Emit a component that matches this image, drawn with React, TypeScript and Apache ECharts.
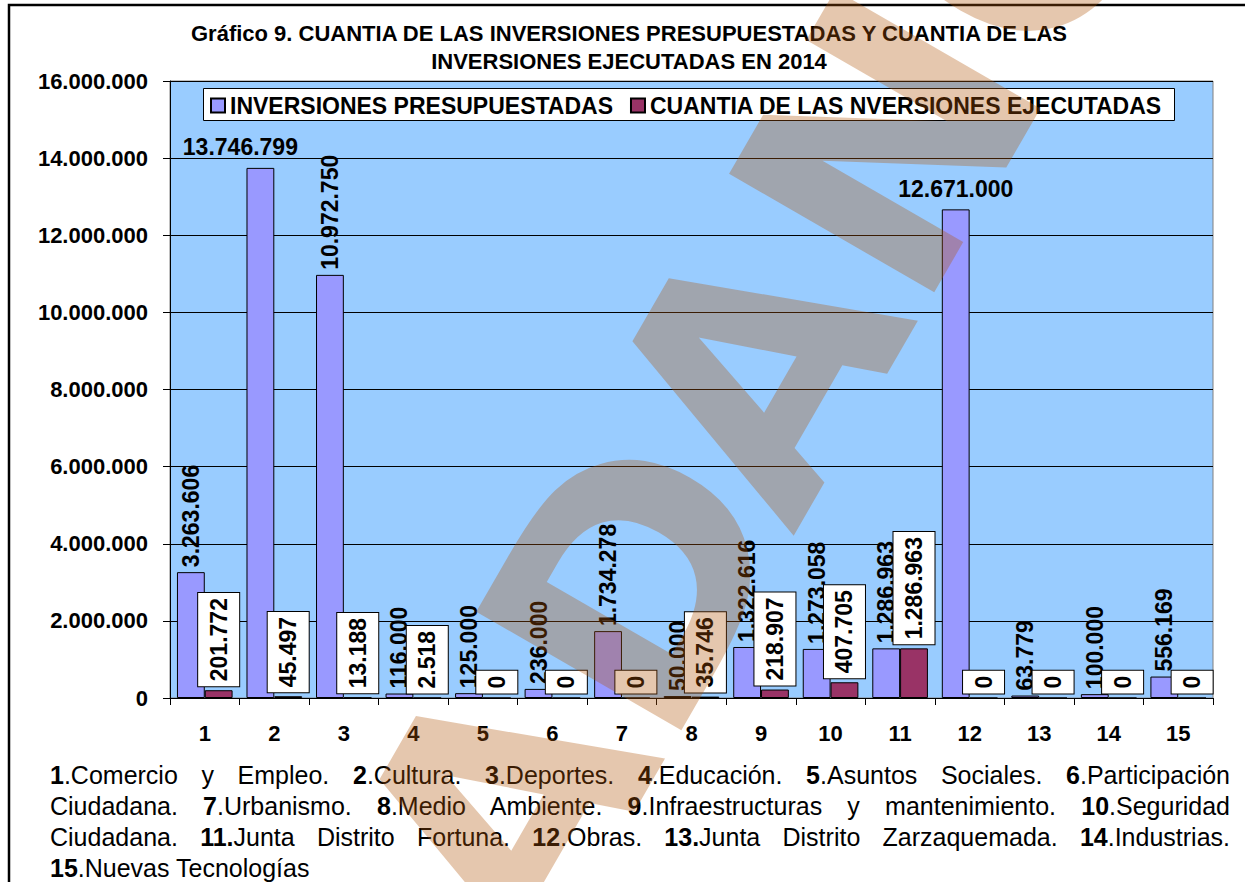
import React, { useEffect, useRef } from 'react';
import * as echarts from 'echarts';

// ---------- data ----------
const categories = ['1', '2', '3', '4', '5', '6', '7', '8', '9', '10', '11', '12', '13', '14', '15'];
const presupuestadas = [3263606, 13746799, 10972750, 116000, 125000, 236000, 1734278, 50000, 1322616, 1273058, 1286963, 12671000, 63779, 100000, 556169];
const ejecutadas = [201772, 45497, 13188, 2518, 0, 0, 0, 35746, 218907, 407705, 1286963, 0, 0, 0, 0];
const seriesNames = ['INVERSIONES PRESUPUESTADAS', 'CUANTIA DE LAS NVERSIONES EJECUTADAS'];
const yMin = 0;
const yMax = 16000000;
const yStep = 2000000;
const titleLines = [
  'Gráfico 9. CUANTIA DE LAS INVERSIONES PRESUPUESTADAS Y CUANTIA DE LAS',
  'INVERSIONES EJECUTADAS EN 2014',
];
// bars whose budget label is written horizontally, with its horizontal nudge
const horizontalLabels: Record<number, number> = { 1: -20, 11: 0 };

type Seg = { b?: boolean; t: string };
const footLines: Seg[][] = [
  [{ b: true, t: '1' }, { t: '.Comercio y Empleo. ' }, { b: true, t: '2' }, { t: '.Cultura. ' }, { b: true, t: '3' }, { t: '.Deportes. ' }, { b: true, t: '4' }, { t: '.Educación. ' }, { b: true, t: '5' }, { t: '.Asuntos Sociales. ' }, { b: true, t: '6' }, { t: '.Participación' }],
  [{ t: 'Ciudadana. ' }, { b: true, t: '7' }, { t: '.Urbanismo. ' }, { b: true, t: '8' }, { t: '.Medio Ambiente. ' }, { b: true, t: '9' }, { t: '.Infraestructuras y mantenimiento. ' }, { b: true, t: '10' }, { t: '.Seguridad' }],
  [{ t: 'Ciudadana. ' }, { b: true, t: '11.' }, { t: 'Junta Distrito Fortuna. ' }, { b: true, t: '12' }, { t: '.Obras. ' }, { b: true, t: '13.' }, { t: 'Junta Distrito Zarzaquemada. ' }, { b: true, t: '14' }, { t: '.Industrias.' }],
  [{ b: true, t: '15' }, { t: '.Nuevas Tecnologías' }],
];

// watermark letters (visible part) and their advance widths in em
const wmLetters = ['A', 'D', 'A', 'N', 'O'];
const wmAdvance = [0.778, 0.778, 0.778, 0.833, 0.833];

// ---------- helpers ----------
const FONT = '"Liberation Sans", Arial, Helvetica, sans-serif';
const fmt = (v: number) => String(Math.round(v)).replace(/\B(?=(\d{3})+(?!\d))/g, '.');

function buildWatermark() {
  const fs = 325;
  const a = Math.PI / 3;
  const ux = Math.cos(a), uy = -Math.sin(a);
  const vx = -Math.sin(a), vy = -Math.cos(a);
  let ox = 540, oy = 975;
  const els: any[] = [];
  wmLetters.forEach((ch, i) => {
    const ax = ox + 0.346 * fs * vx;
    const ay = oy + 0.346 * fs * vy;
    els.push({
      type: 'text',
      x: ax,
      y: ay,
      rotation: a,
      z: 100,
      silent: true,
      style: {
        text: ch,
        fontSize: fs,
        fontWeight: 'bold',
        fontFamily: '"DejaVu Sans", sans-serif',
        fill: 'rgba(176,86,10,0.33)',
        align: 'left',
        verticalAlign: 'middle',
      },
    });
    ox += wmAdvance[i] * fs * ux;
    oy += wmAdvance[i] * fs * uy;
  });
  return els;
}

const rotatedLabel = {
  show: true,
  position: 'top',
  rotate: 90,
  align: 'left',
  verticalAlign: 'middle',
  distance: 5,
  fontSize: 23,
  fontWeight: 'bold',
  fontFamily: FONT,
  color: '#000',
  formatter: (p: any) => fmt(p.value),
};

export default function App() {
  const ref = useRef<HTMLDivElement>(null);

  useEffect(() => {
    if (!ref.current) return;
    const chart = echarts.init(ref.current, null, { renderer: 'svg' });

    const s1Data = presupuestadas.map((v, i) =>
      i in horizontalLabels
        ? {
            value: v,
            label: {
              rotate: 0,
              align: 'center',
              verticalAlign: 'bottom',
              distance: 9,
              offset: [horizontalLabels[i], 0],
            },
          }
        : v
    );

    const option: any = {
      animation: false,
      backgroundColor: 'transparent',
      textStyle: { fontFamily: FONT },
      grid: {
        left: 170,
        top: 81,
        width: 1043,
        height: 617,
        show: true,
        backgroundColor: '#99CCFF',
        borderColor: '#808080',
        borderWidth: 1,
      },
      legend: {
        left: 210,
        top: 94,
        padding: 0,
        itemWidth: 14,
        itemHeight: 14,
        itemGap: 17,
        icon: 'rect',
        data: seriesNames,
        textStyle: { fontSize: 23, fontWeight: 'bold', color: '#000', fontFamily: FONT },
      },
      xAxis: {
        type: 'category',
        data: categories,
        axisLine: { lineStyle: { color: '#000', width: 1 } },
        axisTick: { show: true, length: 7, lineStyle: { color: '#000' } },
        axisLabel: { fontSize: 22, fontWeight: 'bold', color: '#000', margin: 24, fontFamily: FONT },
      },
      yAxis: {
        type: 'value',
        min: yMin,
        max: yMax,
        interval: yStep,
        axisLine: { show: true, lineStyle: { color: '#000', width: 1 } },
        axisTick: { show: true, length: 7, lineStyle: { color: '#000' } },
        axisLabel: {
          fontSize: 22,
          fontWeight: 'bold',
          color: '#000',
          margin: 22,
          fontFamily: FONT,
          formatter: (v: number) => fmt(v),
        },
        splitLine: { show: true, lineStyle: { color: '#000', width: 1 } },
      },
      series: [
        {
          name: seriesNames[0],
          type: 'bar',
          data: s1Data,
          barGap: '0%',
          barCategoryGap: '20%',
          itemStyle: { color: '#9999FF', borderColor: '#000', borderWidth: 1 },
          label: rotatedLabel,
        },
        {
          name: seriesNames[1],
          type: 'bar',
          data: ejecutadas,
          barGap: '0%',
          barCategoryGap: '20%',
          itemStyle: { color: '#993366', borderColor: '#000', borderWidth: 1 },
          label: {
            ...rotatedLabel,
            distance: 4,
            backgroundColor: '#fff',
            borderColor: '#000',
            borderWidth: 1,
            padding: [9, 5],
          },
        },
      ],
      graphic: [
        {
          type: 'rect',
          z: 50,
          silent: true,
          shape: { x: 9, y: 5, width: 1400, height: 1000 },
          style: { fill: 'none', stroke: '#000', lineWidth: 2.5 },
        },
        {
          type: 'rect',
          z: 3,
          silent: true,
          shape: { x: 203.5, y: 88.5, width: 971, height: 32 },
          style: { fill: '#fff', stroke: '#000', lineWidth: 1 },
        },
        {
          type: 'text',
          x: 629,
          y: 19,
          z: 10,
          silent: true,
          style: {
            text: titleLines.join('\n'),
            fontSize: 22,
            fontWeight: 'bold',
            fontFamily: FONT,
            fill: '#000',
            align: 'center',
            verticalAlign: 'top',
            lineHeight: 28,
          },
        },
        ...buildWatermark(),
      ],
    };

    chart.setOption(option);
    return () => chart.dispose();
  }, []);

  return (
    <div
      style={{
        position: 'fixed',
        left: 0,
        top: 0,
        width: 1245,
        height: 882,
        background: '#fff',
        overflow: 'hidden',
      }}
    >
      <div
        style={{
          position: 'absolute',
          left: 50,
          top: 760,
          width: 1180,
          fontFamily: FONT,
          fontSize: 25,
          lineHeight: '31px',
          color: '#000',
        }}
      >
        {footLines.map((line, li) => (
          <div
            key={li}
            style={{
              textAlign: 'justify',
              textAlignLast: li < footLines.length - 1 ? 'justify' : 'left',
              whiteSpace: 'normal',
            } as any}
          >
            {line.map((s, si) =>
              s.b ? <b key={si}>{s.t}</b> : <span key={si}>{s.t}</span>
            )}
          </div>
        ))}
      </div>
      <div ref={ref} style={{ position: 'absolute', left: 0, top: 0, width: 1245, height: 882 }} />
    </div>
  );
}
